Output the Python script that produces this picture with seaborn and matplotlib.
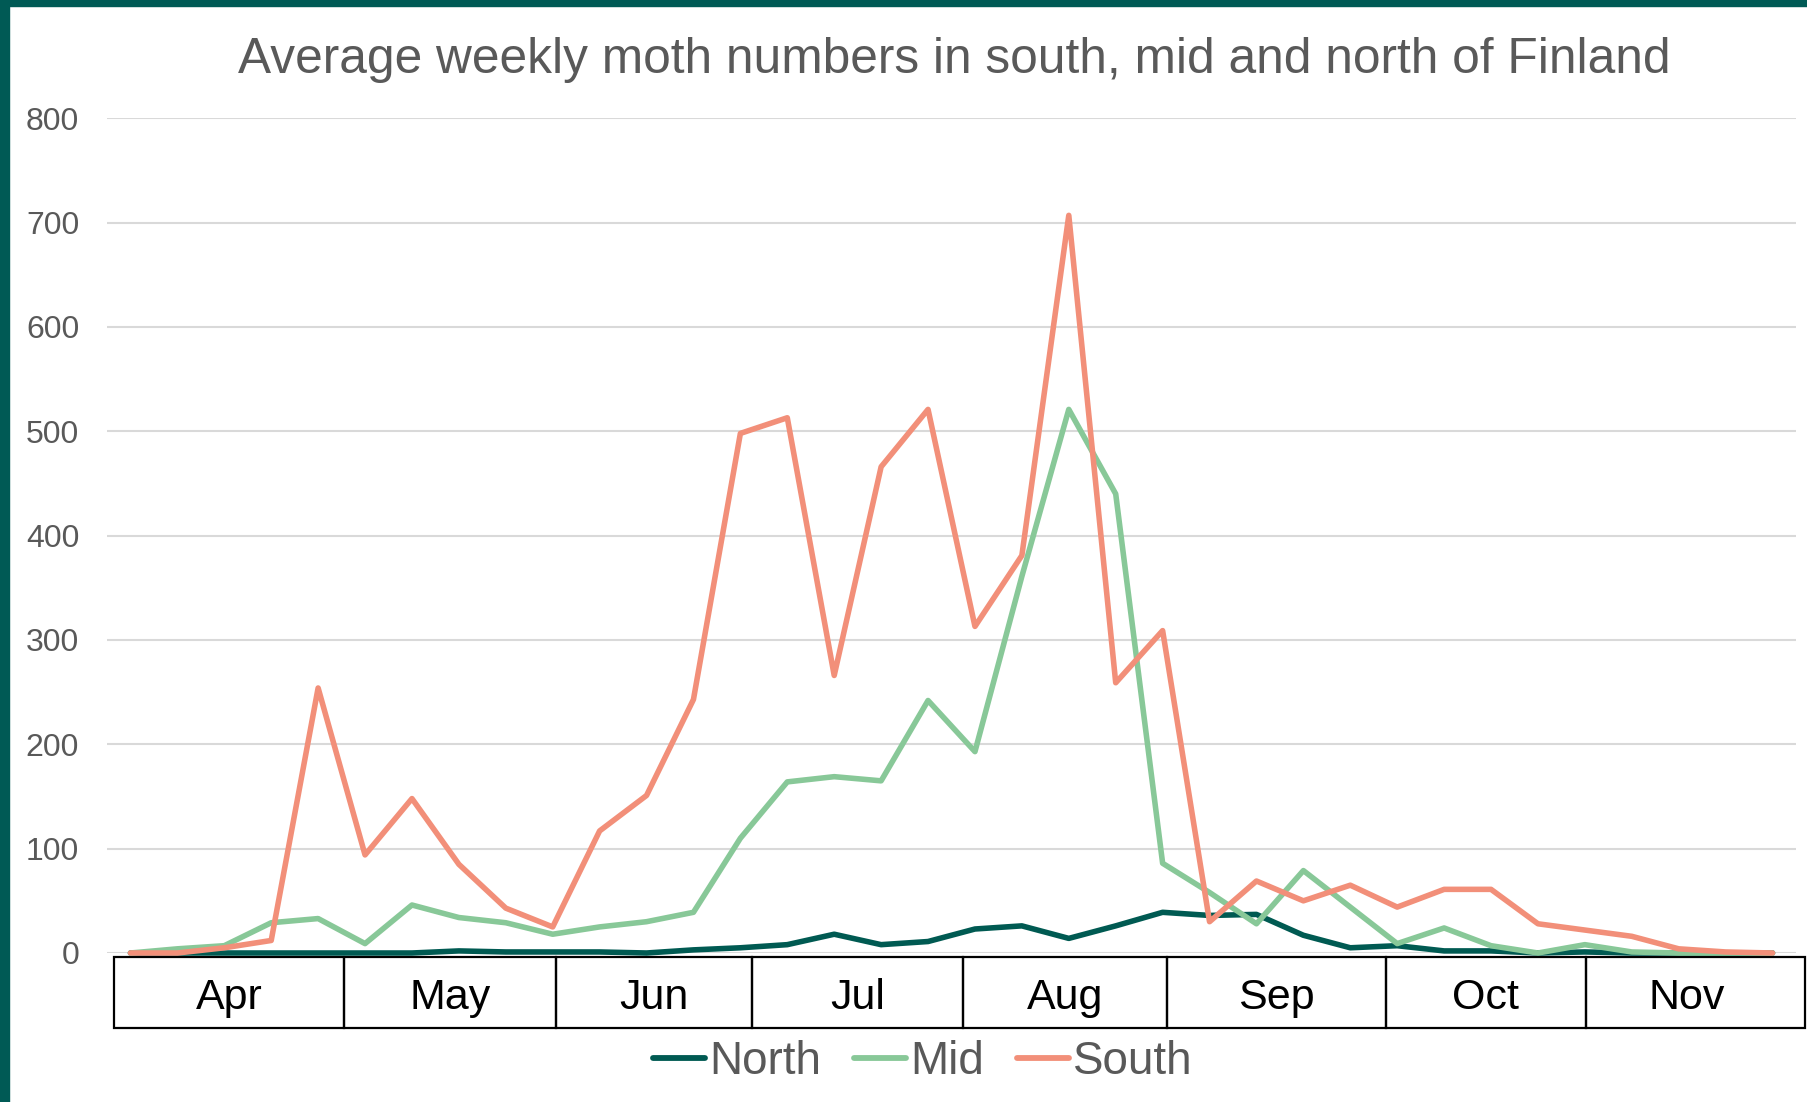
import pandas as pd
import matplotlib
matplotlib.use('Agg')
import matplotlib.pyplot as plt
import matplotlib.transforms as mtransforms
from matplotlib.patches import Rectangle
import seaborn as sns

# weekly averages, first week of April to end of November
weeks = list(range(36))
north = [0, 0, 0, 0, 0, 0, 0, 2, 1, 1, 1, 0, 3, 5, 8, 18, 8, 11, 23, 26, 14, 26,
         39, 36, 37, 17, 5, 7, 2, 2, 0, 1, 0, 0, 0, 0]
mid = [0, 4, 7, 29, 33, 9, 46, 34, 29, 18, 25, 30, 39, 110, 164, 169, 165, 242,
       193, 361, 521, 440, 86, 58, 28, 79, 44, 9, 24, 7, 0, 8, 1, 0, 0, 0]
south = [0, 0, 5, 12, 254, 94, 148, 85, 43, 25, 117, 151, 243, 498, 513, 266, 466,
         521, 313, 381, 707, 259, 309, 30, 69, 50, 65, 44, 61, 61, 28, 22, 16, 4, 1, 0]
regions = ['North', 'Mid', 'South']
months = ['Apr', 'May', 'Jun', 'Jul', 'Aug', 'Sep', 'Oct', 'Nov']
y_ticks = [0, 100, 200, 300, 400, 500, 600, 700, 800]

colors = {'North': '#005a52', 'Mid': '#88c898', 'South': '#f28f79'}
TEAL = '#005a55'
GREY = '#595959'

df = pd.DataFrame({
    'week': weeks * 3,
    'count': north + mid + south,
    'region': [r for r in regions for _ in weeks],
})

sns.set_theme(style='white')
plt.rcParams['font.family'] = ['Liberation Sans', 'DejaVu Sans']

fig = plt.figure(figsize=(18.08, 11.02), dpi=100)
ax = fig.add_axes([107 / 1808, 1 - 953 / 1102, 1689 / 1808, 834.7 / 1102])

sns.lineplot(data=df, x='week', y='count', hue='region', hue_order=regions,
             palette=colors, ax=ax, legend=False)
for ln in ax.lines:
    ln.set_linewidth(4.0)
    ln.set_solid_joinstyle('round')
    ln.set_solid_capstyle('round')
    ln.set_clip_on(False)
    ln.set_zorder(3)

ax.set_xlim(-0.5, 35.5)
ax.set_ylim(0, 800)
ax.set_yticks(y_ticks)
ax.set_xticks([])
ax.set_xlabel('')
ax.set_ylabel('')
ax.yaxis.grid(True, color='#d9d9d9', linewidth=1.5)
ax.set_axisbelow(True)
for s in ax.spines.values():
    s.set_visible(False)
ax.tick_params(axis='y', length=0, pad=20, labelsize=23, labelcolor=GREY)

# month boxes under the axis (week positions of the month boundaries)
edges = [-0.35, 4.55, 9.07, 13.25, 17.74, 22.09, 26.76, 31.02, 35.69]
trans = mtransforms.blended_transform_factory(ax.transData, ax.transAxes)
box_top, box_bot = -0.0048, -0.0899
for i, m in enumerate(months):
    ax.add_patch(Rectangle((edges[i], box_bot), edges[i + 1] - edges[i], box_top - box_bot,
                           transform=trans, fill=False, edgecolor='black',
                           linewidth=1.6, clip_on=False))
    xc = (edges[i] + min(edges[i + 1], 35.3)) / 2
    ax.text(xc, -0.0671, m, transform=trans,
            ha='center', va='baseline', fontsize=31, color='black')

fig.text(954 / 1808, 1 - 73 / 1102, 'Average weekly moth numbers in south, mid and north of Finland',
         ha='center', va='baseline', fontsize=35.7, color=GREY)

handles = [plt.Line2D([], [], color=colors[r], linewidth=4.2, solid_capstyle='round')
           for r in regions]
leg = fig.legend(handles, regions, loc='center', bbox_to_anchor=(923 / 1808, 1 - 1062 / 1102),
                 ncol=3, frameon=False, fontsize=33, handlelength=1.14,
                 handletextpad=0.1, columnspacing=0.7, borderpad=0, borderaxespad=0)
for t in leg.get_texts():
    t.set_color(GREY)

# teal frame edges on the left and top
fig.patches.append(Rectangle((0, 0), 8.5 / 1808, 1, transform=fig.transFigure,
                             color=TEAL, zorder=10))
fig.patches.append(Rectangle((0, 1 - 5.5 / 1102), 1, 5.5 / 1102, transform=fig.transFigure,
                             color=TEAL, zorder=10))

fig.savefig('out.png', dpi=100, facecolor='white')
